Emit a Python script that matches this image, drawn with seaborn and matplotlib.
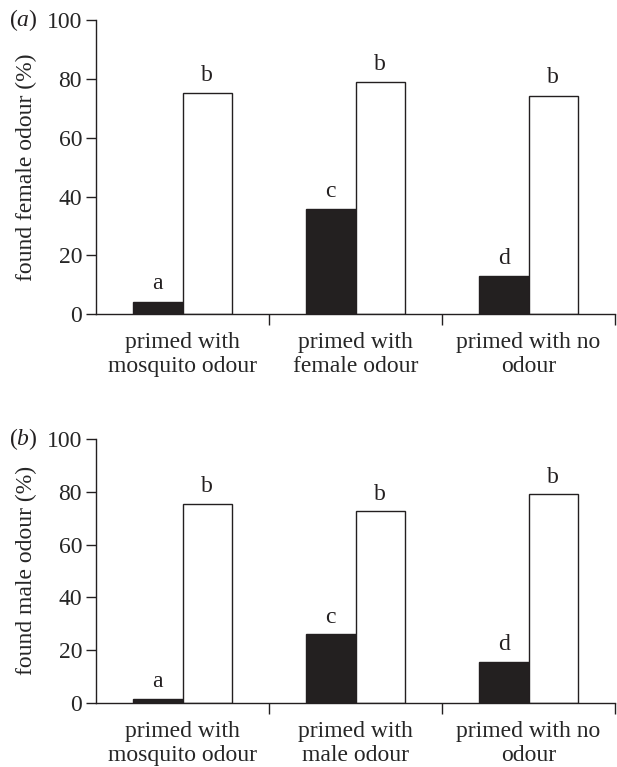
import numpy as np
import pandas as pd
import matplotlib
matplotlib.use("Agg")
from matplotlib import pyplot as plt
import seaborn as sns

# values
groups_a = ["primed with\nmosquito odour", "primed with\nfemale odour", "primed with no\nodour"]
groups_b = ["primed with\nmosquito odour", "primed with\nmale odour", "primed with no\nodour"]
series = ["primed", "other"]
primed_a = [4.3, 35.7, 13.0]
other_a = [75.2, 78.9, 74.3]
primed_b = [1.4, 25.9, 15.5]
other_b = [75.5, 72.6, 79.1]
letters_primed_a = ["a", "c", "d"]
letters_other_a = ["b", "b", "b"]
letters_primed_b = ["a", "c", "d"]
letters_other_b = ["b", "b", "b"]
ylabel_a = "found female odour (%)"
ylabel_b = "found male odour (%)"
yticks = [0, 20, 40, 60, 80, 100]

sns.set_style("ticks")
plt.rcParams["font.family"] = ["Liberation Serif", "DejaVu Serif"]
plt.rcParams["mathtext.fontset"] = "custom"
plt.rcParams["mathtext.it"] = "Liberation Serif:italic"
plt.rcParams["mathtext.rm"] = "Liberation Serif"

FS = 17
BLACK = "#231f20"


def make_df(groups, primed, other):
    return pd.DataFrame({
        "group": groups * 2,
        "series": [series[0]] * 3 + [series[1]] * 3,
        "value": primed + other,
    })


def draw(ax, groups, primed, other, lp, lo, ylabel, tag):
    df = make_df(groups, primed, other)
    sns.barplot(data=df, x="group", y="value", hue="series", order=groups,
                hue_order=series, palette=[BLACK, "white"], edgecolor=BLACK,
                linewidth=1.0, width=0.57, dodge=True, ax=ax, legend=False)
    # letters above bars
    for cont, labs in zip(ax.containers, [lp, lo]):
        for bar, lab in zip(cont, labs):
            ax.text(bar.get_x() + bar.get_width() / 2, bar.get_height() + 2.5, lab,
                    ha="center", va="bottom", fontsize=FS, color=BLACK)
    ax.set_xlim(-0.5, 2.5)
    ax.set_ylim(0, 100)
    ax.set_yticks(yticks)
    ax.set_xticks(range(3))
    ax.set_xticklabels(groups, fontsize=FS, linespacing=1.18)
    ax.set_xticks([0.5, 1.5, 2.5], minor=True)
    ax.tick_params(axis="x", which="major", length=0, pad=13)
    ax.tick_params(axis="x", which="minor", length=8, width=1, direction="out", color=BLACK)
    ax.tick_params(axis="y", length=7, width=1, labelsize=FS, color=BLACK, pad=3)
    ax.set_xlabel("")
    ax.set_ylabel(ylabel, fontsize=FS, labelpad=7)
    for s in ["top", "right"]:
        ax.spines[s].set_visible(False)
    for s in ["left", "bottom"]:
        ax.spines[s].set_linewidth(1.0)
        ax.spines[s].set_color(BLACK)
    ax.text(-0.113, 1.0, r"($\it{%s}$)" % tag, transform=ax.transAxes,
            fontsize=FS, ha="right", va="center", color=BLACK)


fig = plt.figure(figsize=(6.17, 7.67), dpi=100)
ax1 = fig.add_axes([0.1556, 0.5902, 0.8412, 0.3837])
ax2 = fig.add_axes([0.1556, 0.0838, 0.8412, 0.3438])

draw(ax1, groups_a, primed_a, other_a, letters_primed_a, letters_other_a, ylabel_a, "a")
draw(ax2, groups_b, primed_b, other_b, letters_primed_b, letters_other_b, ylabel_b, "b")

fig.savefig("out.png", dpi=100)
